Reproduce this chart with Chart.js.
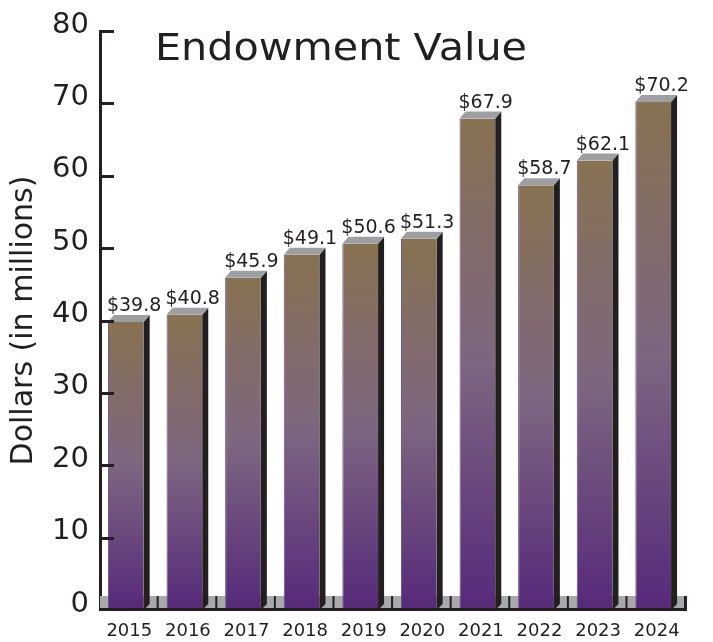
<!DOCTYPE html>
<html>
<head>
<meta charset="utf-8">
<script src="https://cdn.jsdelivr.net/npm/chart.js@4.4.1/dist/chart.umd.min.js"></script>
<style>
  body { margin: 0; background: #fff; }
  #wrap { width: 713px; height: 642px; }
</style>
</head>
<body>
<div id="wrap"><canvas id="myChart" width="713" height="642"></canvas></div>
<script>
const years = ['2015', '2016', '2017', '2018', '2019', '2020', '2021', '2022', '2023', '2024'];
const endowment = [39.8, 40.8, 45.9, 49.1, 50.6, 51.3, 67.9, 58.7, 62.1, 70.2];
const yTickValues = [0, 10, 20, 30, 40, 50, 60, 70, 80];
const chartTitle = 'Endowment Value';
const axisTitle = 'Dollars (in millions)';

const ink = '#231f20';
const font = "'DejaVu Sans', sans-serif";

// fake 3D look: dark side, grey cap, grey floor, inward ticks, title
const bar3d = {
    id: 'bar3d',
    afterDatasetsUpdate(chart) {
        chart.getDatasetMeta(0).data.forEach(el => { el.x -= 3.5; });
    },
    beforeDatasetsDraw(chart) {
        const ctx = chart.ctx;
        const ca = chart.chartArea;
        const base = ca.bottom;
        ctx.save();
        ctx.fillStyle = '#a7a9ac';
        ctx.fillRect(ca.left, base - 14, ca.right - ca.left, 12);
        ctx.restore();
    },
    afterDatasetsDraw(chart) {
        const ctx = chart.ctx;
        const ca = chart.chartArea;
        const base = ca.bottom;
        const dx = 6, dy = 7;
        const bars = chart.getDatasetMeta(0).data;
        ctx.save();
        bars.forEach((el, i) => {
            const L = el.x - el.width / 2;
            const R = el.x + el.width / 2;
            const T = el.y;
            // side
            ctx.fillStyle = ink;
            ctx.beginPath();
            ctx.moveTo(R, T);
            ctx.lineTo(R + dx, T - dy);
            ctx.lineTo(R + dx, base - 6);
            ctx.lineTo(R, base);
            ctx.closePath();
            ctx.fill();
            // cap
            ctx.fillStyle = '#9d9fa2';
            ctx.beginPath();
            ctx.moveTo(L, T);
            ctx.lineTo(L + dx, T - dy);
            ctx.lineTo(R + dx, T - dy);
            ctx.lineTo(R, T);
            ctx.closePath();
            ctx.fill();
            // floor marker
            if (i < bars.length - 1) {
                ctx.fillStyle = ink;
                ctx.fillRect(R + dx + 7, base - 14, 2, 12);
            }
            // value label
            ctx.fillStyle = ink;
            ctx.font = '19px ' + font;
            ctx.textAlign = 'left';
            ctx.textBaseline = 'alphabetic';
            ctx.fillText('$' + endowment[i].toFixed(1), L - 1, T - 11);
        });
        // floor base line and end
        ctx.fillStyle = ink;
        ctx.fillRect(ca.left, base - 2, ca.right - ca.left + 1, 3);
        ctx.fillRect(ca.right - 2, base - 14, 3, 15);
        ctx.restore();
    },
    afterDraw(chart) {
        const ctx = chart.ctx;
        const y = chart.scales.y;
        const ca = chart.chartArea;
        ctx.save();
        ctx.strokeStyle = ink;
        ctx.lineWidth = 3;
        yTickValues.forEach(v => {
            if (v === 0) return;
            const py = Math.round(y.getPixelForValue(v)) + 0.5;
            ctx.beginPath();
            ctx.moveTo(ca.left, py);
            ctx.lineTo(ca.left + 14, py);
            ctx.stroke();
        });
        // title inside plot
        ctx.fillStyle = ink;
        ctx.font = '37px ' + font;
        ctx.textBaseline = 'alphabetic';
        const w = ctx.measureText(chartTitle).width;
        ctx.translate(155, 60);
        ctx.scale(372 / w, 1);
        ctx.fillText(chartTitle, 0, 0);
        ctx.restore();
    }
};

new Chart(document.getElementById('myChart'), {
    type: 'bar',
    data: {
        labels: years,
        datasets: [{
            label: chartTitle,
            data: endowment,
            backgroundColor: (c) => {
                const chart = c.chart;
                if (!chart.chartArea || !chart.scales.y) return '#7f6884';
                const ys = chart.scales.y;
                const top = ys.getPixelForValue(endowment[c.dataIndex]);
                const g = chart.ctx.createLinearGradient(0, top, 0, ys.getPixelForValue(0));
                g.addColorStop(0, '#877252');
                g.addColorStop(0.5, '#7c6680');
                g.addColorStop(1, '#56297a');
                return g;
            },
            borderColor: '#6b4a8a',
            borderWidth: { left: 1, right: 0, top: 0, bottom: 0 },
            borderSkipped: false,
            categoryPercentage: 1,
            barPercentage: 0.61
        }]
    },
    options: {
        responsive: false,
        animation: false,
        layout: { padding: { top: 31, right: 27, left: 0, bottom: 0 } },
        plugins: {
            legend: { display: false },
            tooltip: { enabled: false }
        },
        scales: {
            x: {
                grid: { display: false, drawTicks: false },
                border: { display: false },
                ticks: { color: ink, font: { family: font, size: 18 }, padding: 11, maxRotation: 0 },
                afterFit(s) { s.height = 32; }
            },
            y: {
                min: 0,
                max: 80,
                afterBuildTicks(s) { s.ticks = yTickValues.map(v => ({ value: v })); },
                grid: { display: true, drawOnChartArea: false, drawTicks: false },
                border: { display: true, color: ink, width: 3 },
                ticks: { color: ink, font: { family: font, size: 29 }, padding: 11, labelOffset: -6 },
                title: {
                    display: true,
                    text: axisTitle,
                    color: ink,
                    font: { family: font, size: 30 },
                    padding: { top: 6, bottom: 0 }
                },
                afterFit(s) { s.width = 100; }
            }
        }
    },
    plugins: [bar3d]
});
</script>
</body>
</html>
